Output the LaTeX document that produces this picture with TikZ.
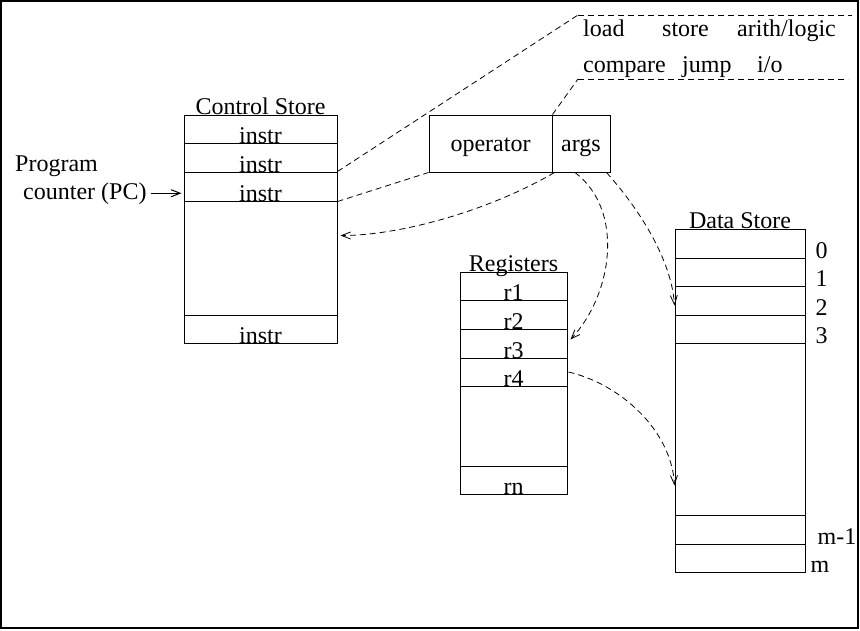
\documentclass[tikz,border=0pt]{standalone}
\usepackage{fontspec}
\setmainfont{Liberation Serif}
\usetikzlibrary{calc,arrows.meta}
\newcommand{\figfont}{\fontsize{24}{28}\selectfont}

\begin{document}
\begin{tikzpicture}[x=1pt,y=-1pt,
  cell/.style={draw,rectangle,inner sep=0pt,line width=1pt},
  lbl/.style={inner sep=0pt,font=\figfont},
  field/.style={cell,minimum height=57pt,text height=16pt,text depth=0pt,font=\figfont},
  zoomline/.style={dash pattern=on 6pt off 4pt,line width=0.8pt},
  ptr/.style={zoomline,-{Straight Barb[length=9pt,width=7pt]}}]
  \useasboundingbox (0,0) rectangle (860,630);
  \draw[line width=1.2pt] (1,1) rectangle (858,628);
  % control store
  \foreach \nm/\ya/\yb in {cs1/115/143,cs2/143/172,cs3/172/201,cs4/201/315,csn/315/343}
    \node[cell,minimum width=153pt,minimum height={(\yb-\ya)*1pt}] (\nm) at (260.5,{(\ya+\yb)/2}) {};
  \node[lbl,anchor=base] (csTitle) at (cs1.north) {Control Store};
  \foreach \nm in {cs1,cs2,cs3,csn}
    \node[lbl,anchor=base] (\nm l) at (\nm.south) {instr};
  \node[lbl,anchor=base west] (pcA) at (15,171) {Program};
  \node[lbl,anchor=base west] (pcB) at (23,199) {counter (PC)};
  \draw[line width=1pt,-{Straight Barb[length=9pt,width=7pt]}] ($(pcB.east)+(4,0)$) -- ($(pcB.east -| cs3.west)+(-2,0)$);
  % instruction format
  \node[field,minimum width=123pt] (op) at (490.5,143.5) {operator};
  \node[field,minimum width=58pt] (args) at (581,143.5) {args};
  \coordinate (lstTL) at (578,15);
  \coordinate (lstTR) at (852,15);
  \coordinate (lstBL) at (578,79);
  \coordinate (lstBR) at (848,79);
  \draw[zoomline] (lstTL) -- (lstTR);
  \draw[zoomline] (lstBL) -- (lstBR);
  \node[lbl,anchor=base west] (opLoad) at (583,36) {load};
  \node[lbl,anchor=base west] (opStore) at (662,36) {store};
  \node[lbl,anchor=base west] (opArith) at (737,36) {arith/logic};
  \node[lbl,anchor=base west] (opCmp) at (583,72) {compare};
  \node[lbl,anchor=base west] (opJump) at (682,72) {jump};
  \node[lbl,anchor=base west] (opIO) at (757,72) {i/o};
  \draw[zoomline] (cs3.north east) -- (lstTL);
  \draw[zoomline] (cs3.south east) -- (op.south west);
  \draw[zoomline] (op.north east) -- (lstBL);
  % registers
  \foreach \nm/\ya/\yb in {r1/272/300,r2/300/329,r3/329/358,r4/358/386,rMid/386/466,rn/466/494}
    \node[cell,minimum width=107pt,minimum height={(\yb-\ya)*1pt}] (\nm) at (513.5,{(\ya+\yb)/2}) {};
  \node[lbl,anchor=base] (regTitle) at (r1.north) {Registers};
  \foreach \nm in {r1,r2,r3,r4,rn}
    \node[lbl,anchor=base] (\nm l) at (\nm.south) {\nm};
  % data store
  \foreach \nm/\ya/\yb in {ds0/229/258,ds1/258/286,ds2/286/315,ds3/315/343,dsMid/343/515,dsM1/515/544,dsM/544/572}
    \node[cell,minimum width=130pt,minimum height={(\yb-\ya)*1pt}] (\nm) at (740,{(\ya+\yb)/2}) {};
  \node[lbl,anchor=base] (dsTitle) at (ds0.north) {Data Store};
  \foreach \i in {0,1,2,3}
    \node[lbl,anchor=base west] (ds\i l) at ($(ds\i.south east)+(10,0)$) {\i};
  \node[lbl,anchor=base west] (dsM1l) at ($(dsM1.south east)+(12,0)$) {m-1};
  \node[lbl,anchor=base west] (dsMl) at ($(dsM.south east)+(5,0)$) {m};
  % pointers from args
  \draw[ptr] ($(args.south west)+(3,0)$) .. controls +(-65,38) and +(60,0) .. ($(cs4.north east)+(3,35)$);
  \draw[ptr] ($(args.south)+(-6,0)$) .. controls +(50,38) and +(42,-45) .. ($(r3.north east)+(3,11)$);
  \draw[ptr] ($(args.south east)+(-4,0)$) .. controls +(34,38) and +(-3,-45) .. ($(ds2.south west)+(0,-10)$);
  \draw[ptr] ($(r4.east)+(1,0)$) .. controls +(52,12) and +(-3,-55) .. ($(dsMid.south west)+(0,-30)$);
\end{tikzpicture}
\end{document}
